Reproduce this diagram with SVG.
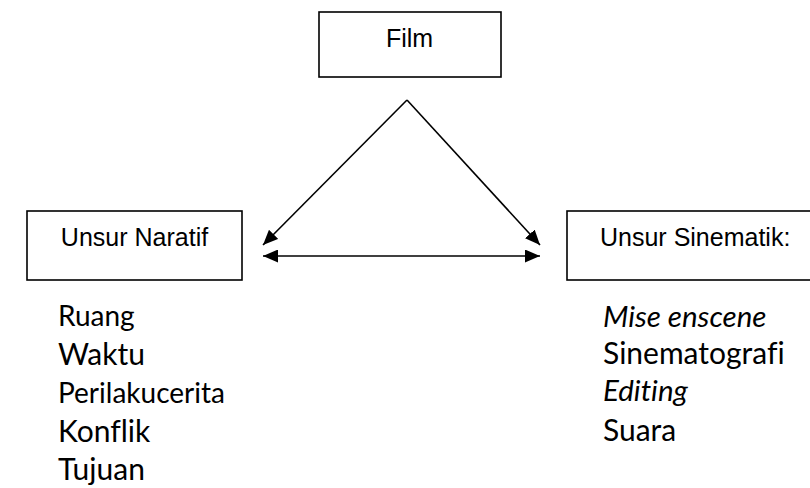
<svg xmlns="http://www.w3.org/2000/svg" width="810" height="488" viewBox="0 0 810 488">
<defs>
<marker id="ah" viewBox="0 0 15 13" refX="15" refY="6.5" markerWidth="15" markerHeight="13" markerUnits="userSpaceOnUse" orient="auto-start-reverse">
<path d="M0,0 L15,6.5 L0,13 z" fill="#000"/>
</marker>
</defs>
<style>
.box{fill:#fff;stroke:#000;stroke-width:1.6}
.lbl{font-family:"Liberation Sans",Arial,sans-serif;font-size:25px;fill:#000}
.it{font-family:Lato,"Open Sans",sans-serif;fill:#000;font-variant-ligatures:none}
.sm{font-size:28px}
.lg{font-size:30px}
.i{font-style:italic;font-size:29.5px}
.conn{stroke:#000;stroke-width:1.6;fill:none}
</style>
<g id="film">
<rect class="box" x="319" y="12" width="182" height="65"/>
<text class="lbl" x="409.5" y="47" text-anchor="middle">Film</text>
</g>
<g id="naratif">
<rect class="box" x="27" y="211" width="215" height="69"/>
<text class="lbl" x="134.5" y="246" text-anchor="middle">Unsur Naratif</text>
<text class="it sm" x="58" y="326">Ruang</text>
<text class="it lg" x="58" y="365">Waktu</text>
<text class="it sm" x="58" y="403">Perilakucerita</text>
<text class="it lg" x="58" y="442">Konflik</text>
<text class="it lg" x="58" y="480">Tujuan</text>
</g>
<g id="sinematik">
<rect class="box" x="567" y="211" width="260" height="69"/>
<text class="lbl" x="600" y="246">Unsur Sinematik:</text>
<text class="it i" x="603" y="327">Mise enscene</text>
<text class="it lg" x="603" y="364">Sinematografi</text>
<text class="it i" x="603" y="401">Editing</text>
<text class="it lg" x="603" y="441">Suara</text>
</g>
<g id="connectors">
<line class="conn" x1="407" y1="100" x2="263" y2="245" marker-end="url(#ah)"/>
<line class="conn" x1="407" y1="100" x2="540" y2="245" marker-end="url(#ah)"/>
<line class="conn" x1="263" y1="256" x2="540" y2="256" marker-start="url(#ah)" marker-end="url(#ah)"/>
</g>
</svg>
